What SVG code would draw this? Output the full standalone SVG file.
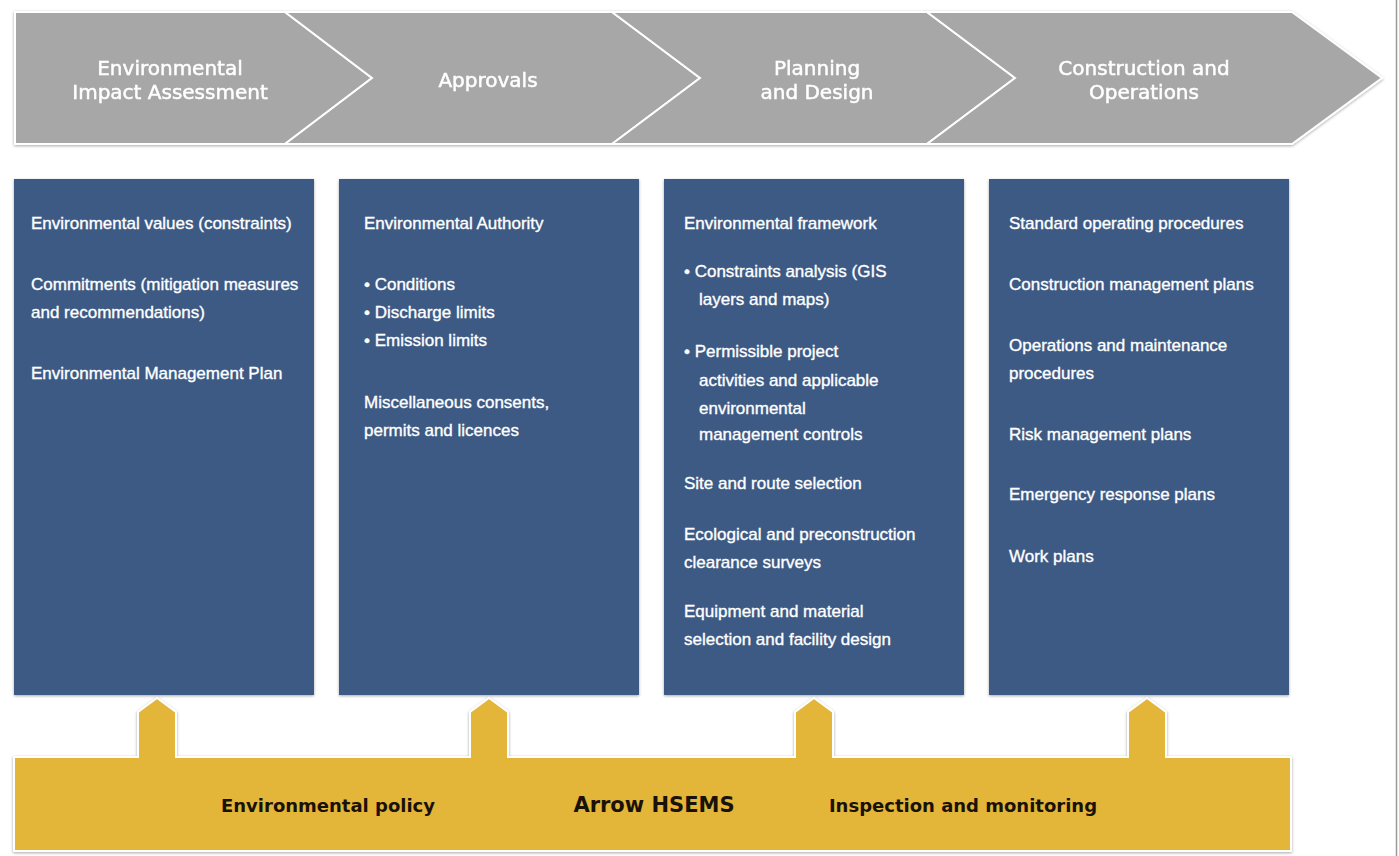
<svg xmlns="http://www.w3.org/2000/svg" width="1399" height="856" viewBox="0 0 1399 856">
  <defs>
    <filter id="sh" x="-5%" y="-10%" width="110%" height="120%">
      <feDropShadow dx="0" dy="1" stdDeviation="1.6" flood-color="#000" flood-opacity="0.35"/>
    </filter>
    <style>
      .chev { fill: #a7a7a7; stroke: #ffffff; stroke-width: 2; stroke-linejoin: miter; }
      .hdr { font-family: "DejaVu Sans", "Liberation Sans", sans-serif; font-size: 20px; fill: #ffffff; stroke: #ffffff; stroke-width: 0.5; text-anchor: middle; }
      .box { fill: #3c5a84; filter: url(#sh); }
      .bt { font-family: "Liberation Sans", Arial, sans-serif; font-size: 17px; fill: #ffffff; stroke: #ffffff; stroke-width: 0.35; }
      .gold { fill: #e3b538; stroke: #ffffff; stroke-width: 2; filter: url(#sh); }
      .gt { font-family: "DejaVu Sans", "Liberation Sans", sans-serif; font-size: 18px; font-weight: bold; fill: #1a1208; text-anchor: middle; }
      .gtb { font-family: "DejaVu Sans", "Liberation Sans", sans-serif; font-size: 21px; font-weight: bold; fill: #1a1208; text-anchor: middle; }
    </style>
  </defs>
  <rect x="0" y="0" width="1399" height="856" fill="#ffffff"/>
  <line x1="1396.5" y1="0" x2="1396.5" y2="856" stroke="#9a9a9a" stroke-width="1.5"/>

  <g id="phases" filter="url(#sh)">
    <g id="phase-eia">
      <polygon class="chev" points="15,12 285,12 372,78 285,144 15,144"/>
      <text class="hdr" x="170" y="75">Environmental</text>
      <text class="hdr" x="170" y="99">Impact Assessment</text>
    </g>
    <g id="phase-approvals">
      <polygon class="chev" points="285,12 612,12 700,78 612,144 285,144 372,78"/>
      <text class="hdr" x="488" y="87">Approvals</text>
    </g>
    <g id="phase-planning">
      <polygon class="chev" points="612,12 927,12 1015,78 927,144 612,144 700,78"/>
      <text class="hdr" x="817" y="75">Planning</text>
      <text class="hdr" x="817" y="99">and Design</text>
    </g>
    <g id="phase-construction">
      <polygon class="chev" points="927,12 1292,12 1382,78 1292,144 927,144 1015,78"/>
      <text class="hdr" x="1144" y="75">Construction and</text>
      <text class="hdr" x="1144" y="99">Operations</text>
    </g>
  </g>

  <g id="box-eia">
    <rect class="box" x="14" y="179" width="300" height="516"/>
    <text class="bt" x="31" y="229">Environmental values (constraints)</text>
    <text class="bt" x="31" y="290">Commitments (mitigation measures</text>
    <text class="bt" x="31" y="318">and recommendations)</text>
    <text class="bt" x="31" y="379">Environmental Management Plan</text>
  </g>

  <g id="box-approvals">
    <rect class="box" x="339" y="179" width="300" height="516"/>
    <text class="bt" x="364" y="229">Environmental Authority</text>
    <text class="bt" x="364" y="290">• Conditions</text>
    <text class="bt" x="364" y="318">• Discharge limits</text>
    <text class="bt" x="364" y="346">• Emission limits</text>
    <text class="bt" x="364" y="408">Miscellaneous consents,</text>
    <text class="bt" x="364" y="436">permits and licences</text>
  </g>

  <g id="box-planning">
    <rect class="box" x="664" y="179" width="300" height="516"/>
    <text class="bt" x="684" y="229">Environmental framework</text>
    <text class="bt" x="684" y="277">• Constraints analysis (GIS</text>
    <text class="bt" x="699" y="305">layers and maps)</text>
    <text class="bt" x="684" y="357">• Permissible project</text>
    <text class="bt" x="699" y="386">activities and applicable</text>
    <text class="bt" x="699" y="414">environmental</text>
    <text class="bt" x="699" y="440">management controls</text>
    <text class="bt" x="684" y="489">Site and route selection</text>
    <text class="bt" x="684" y="540">Ecological and preconstruction</text>
    <text class="bt" x="684" y="568">clearance surveys</text>
    <text class="bt" x="684" y="617">Equipment and material</text>
    <text class="bt" x="684" y="645">selection and facility design</text>
  </g>

  <g id="box-construction">
    <rect class="box" x="989" y="179" width="300" height="516"/>
    <text class="bt" x="1009" y="229">Standard operating procedures</text>
    <text class="bt" x="1009" y="290">Construction management plans</text>
    <text class="bt" x="1009" y="351">Operations and maintenance</text>
    <text class="bt" x="1009" y="379">procedures</text>
    <text class="bt" x="1009" y="440">Risk management plans</text>
    <text class="bt" x="1009" y="500">Emergency response plans</text>
    <text class="bt" x="1009" y="562">Work plans</text>
  </g>

  <g id="connectors">
    <g id="hsems">
      <path class="gold" d="M14,757 H138 V712 L157,698 L176,712 V757 H470 V712 L489,698 L508,712 V757 H795 V712 L814,698 L833,712 V757 H1128 V712 L1147,698 L1166,712 V757 H1291 V851 H14 Z"/>
      <text class="gt" x="328" y="812">Environmental policy</text>
      <text class="gtb" x="654" y="812">Arrow HSEMS</text>
      <text class="gt" x="963" y="812">Inspection and monitoring</text>
    </g>
  </g>
</svg>
